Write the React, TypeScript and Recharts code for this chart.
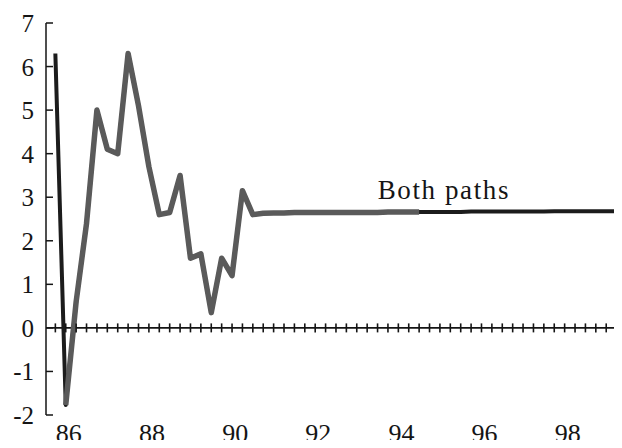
import React from "react";
import {
    LineChart,
    Line,
    XAxis,
    YAxis,
    ReferenceLine,
    ReferenceDot,
} from "recharts";

// quarterly observations, 86Q1 .. 99Q4
const startYear = 86;
const pathA = [
    6.3, -1.77, 0.6, 2.4,
    5.0, 4.1, 4.0, 6.3,
    5.1, 3.7, 2.6, 2.65,
    3.5, 1.6, 1.7, 0.35,
    1.6, 1.2, 3.15, 2.6,
    2.63, 2.64, 2.64, 2.65,
    2.65, 2.65, 2.65, 2.65,
    2.65, 2.65, 2.65, 2.65,
    2.66, 2.66, 2.66, 2.66,
    2.66, 2.66, 2.66, 2.66,
    2.67, 2.67, 2.67, 2.67,
    2.67, 2.67, 2.67, 2.67,
    2.68, 2.68, 2.68, 2.68,
    2.68, 2.68, 2.68, 2.68,
];
// second path coincides with the first ("Both paths")
const pathB = [
    null, -1.77, 0.6, 2.4,
    5.0, 4.1, 4.0, 6.3,
    5.1, 3.7, 2.6, 2.65,
    3.5, 1.6, 1.7, 0.35,
    1.6, 1.2, 3.15, 2.6,
    2.63, 2.64, 2.64, 2.65,
    2.65, 2.65, 2.65, 2.65,
    2.65, 2.65, 2.65, 2.65,
    2.66, 2.66, 2.66, 2.66,
    null, null, null, null,
    null, null, null, null,
    null, null, null, null,
    null, null, null, null,
    null, null, null, null,
];
const yearLabels = [86, 88, 90, 92, 94, 96, 98];
const yTicks = [-2, -1, 0, 1, 2, 3, 4, 5, 6, 7];

const data = pathA.map((v, i) => ({
    t: startYear + Math.floor(i / 4) + ((i % 4) + 0.5) / 4,
    a: v,
    b: pathB[i],
    zero: 0,
}));

const FONT = "'Liberation Serif', 'Times New Roman', serif";
const INK = "#151515";

const Cross = (props: any) => {
    const { cx, cy, index } = props;
    if (cx == null || cy == null) return <g key={`c${index}`} />;
    return (
        <line
            key={`c${index}`}
            x1={cx}
            x2={cx}
            y1={cy - 4.5}
            y2={cy + 4.5}
            stroke={INK}
            strokeWidth={1.6}
        />
    );
};

const YTick = (props: any) => {
    const { x, y, payload } = props;
    return (
        <g>
            <line x1={x + 12} x2={x + 19} y1={y} y2={y} stroke={INK} strokeWidth={1.5} />
            <text
                x={x}
                y={y}
                dy="0.36em"
                textAnchor="end"
                fontSize={25}
                fontFamily={FONT}
                fill={INK}
            >
                {payload.value}
            </text>
        </g>
    );
};

const XTick = (props: any) => {
    const { x, y, payload } = props;
    return (
        <text
            x={x}
            y={y}
            dy="0.65em"
            textAnchor="middle"
            fontSize={26}
            fontFamily={FONT}
            fill={INK}
        >
            {Math.floor(payload.value)}
        </text>
    );
};

export default function App() {
    return (
        <div
            style={{
                margin: -8,
                width: 622,
                height: 448,
                overflow: "hidden",
                background: "#fff",
            }}
        >
            <LineChart
                width={630}
                height={448}
                data={data}
                margin={{ top: 23, right: 3, bottom: 0, left: 0 }}
            >
                <XAxis
                    dataKey="t"
                    type="number"
                    domain={[85.9, 99.875]}
                    ticks={yearLabels.map((y) => y + 0.45)}
                    axisLine={false}
                    tickLine={false}
                    tickSize={0}
                    tickMargin={10}
                    height={33}
                    tick={<XTick />}
                    interval={0}
                    allowDataOverflow
                />
                <YAxis
                    type="number"
                    domain={[-2, 7]}
                    ticks={yTicks}
                    width={46}
                    tickLine={false}
                    tickSize={0}
                    tickMargin={12}
                    axisLine={{ stroke: INK, strokeWidth: 1.5 }}
                    tick={<YTick />}
                    interval={0}
                />
                <ReferenceLine y={0} stroke={INK} strokeWidth={1.8} />
                <Line
                    dataKey="zero"
                    stroke="none"
                    dot={Cross}
                    activeDot={false}
                    isAnimationActive={false}
                />
                <Line
                    dataKey="a"
                    stroke="#1c1c1c"
                    strokeWidth={4}
                    strokeLinejoin="round"
                    dot={false}
                    activeDot={false}
                    isAnimationActive={false}
                />
                <Line
                    dataKey="b"
                    stroke="#5a5a5a"
                    strokeWidth={5.5}
                    strokeLinejoin="round"
                    dot={false}
                    activeDot={false}
                    connectNulls={false}
                    isAnimationActive={false}
                />
                <ReferenceDot
                    x={93.88}
                    y={2.96}
                    r={0}
                    label={(p: any) => (
                        <text
                            x={p.viewBox.x}
                            y={p.viewBox.y}
                            fontSize={27}
                            fontFamily={FONT}
                            fill={INK}
                            letterSpacing={1.6}
                        >
                            Both paths
                        </text>
                    )}
                />
            </LineChart>
        </div>
    );
}
